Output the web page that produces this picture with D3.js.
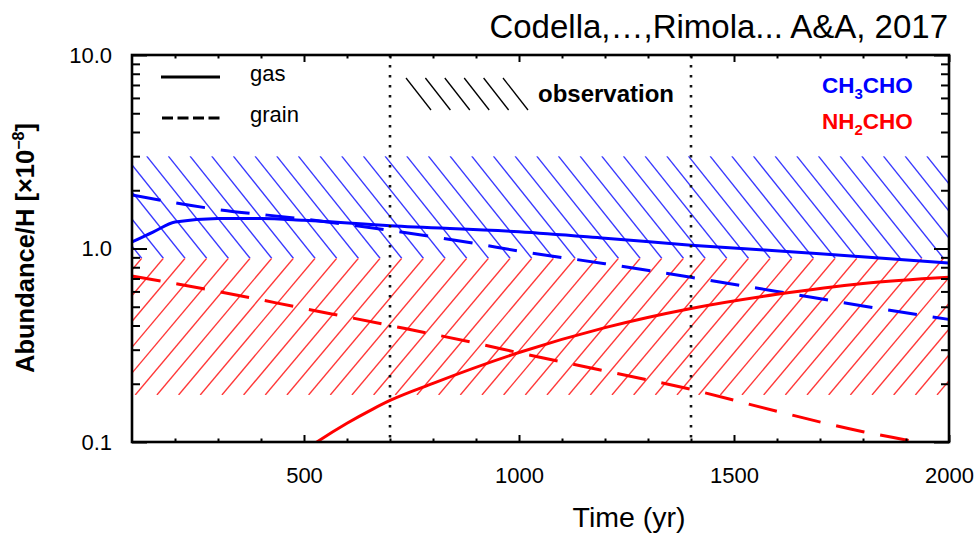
<!DOCTYPE html>
<html>
<head>
<meta charset="utf-8">
<script src="https://cdn.jsdelivr.net/npm/d3@7"></script>
<style>
  html, body { margin: 0; padding: 0; background: #fff; }
  svg { display: block; font-family: "Liberation Sans", Arial, sans-serif; }
</style>
</head>
<body>
<svg id="chart" width="980" height="533"></svg>
<script>
// Model abundances (relative to H, in units of 1e-8) versus time, [yr, value]
const ch3choGas = [[100,1.08],[150,1.22],[200,1.37],[300,1.43],[400,1.43],[500,1.40],[700,1.31],[1000,1.22],[1200,1.13],[1400,1.04],[1700,0.94],[2000,0.84]];
const ch3choGrain = [[100,1.89],[300,1.59],[500,1.42],[700,1.24],[900,1.06],[1000,0.97],[1200,0.835],[1400,0.71],[1600,0.60],[1800,0.505],[2000,0.43]];
const nh2choGas = [[500,0.090],[530,0.100],[600,0.125],[660,0.148],[700,0.164],[800,0.201],[1000,0.29],[1200,0.39],[1400,0.49],[1600,0.58],[1800,0.66],[2000,0.71]];
const nh2choGrain = [[100,0.72],[300,0.60],[500,0.49],[700,0.40],[900,0.324],[1000,0.289],[1200,0.233],[1400,0.187],[1600,0.144],[1800,0.113],[1900,0.1025],[2000,0.093]];

// Observed abundance ranges [low, high]
const obsCH3CHO = [0.89, 3.0];
const obsNH2CHO = [0.175, 0.89];
// Age window bracketing the observation
const obsWindow = [700, 1400];

// Axis ticks
const xMajorTicks = [500, 1000, 1500, 2000];
const xMinorTicks = [200,300,400,600,700,800,900,1100,1200,1300,1400,1600,1700,1800,1900];
const yMajorTicks = [0.1, 1, 10];
const yMinorTicks = [0.2,0.3,0.4,0.5,0.6,0.7,0.8,0.9,2,3,4,5,6,7,8,9];

const BLUE = "#0000ff", RED = "#ff0000";

const svg = d3.select("#chart");
const L = 132, R = 949, T = 55, B = 442;

const x = d3.scaleLinear().domain([100, 2000]).range([L, R]);
const y = d3.scaleLog().domain([0.1, 10]).range([B, T]);

const defs = svg.append("defs");
defs.append("clipPath").attr("id", "plotClip")
  .append("rect").attr("x", L).attr("y", T).attr("width", R - L).attr("height", B - T);

// Hatched observation bands: "\" above the shared edge, "/" below it, meeting in chevrons
function hatchBand(id, yEdge, yFar, slope, color, step, phase) {
  const top = Math.min(yEdge, yFar), h = Math.abs(yFar - yEdge);
  defs.append("clipPath").attr("id", id)
    .append("rect").attr("x", L).attr("y", top).attr("width", R - L).attr("height", h);
  const tips = d3.range(L + phase - 10 * step, R + 10 * step, step);
  svg.append("g").attr("clip-path", `url(#${id})`)
    .selectAll("line").data(tips).join("line")
    .attr("x1", d => d).attr("y1", yEdge)
    .attr("x2", d => d - slope * h).attr("y2", yFar)
    .attr("stroke", color).attr("stroke-width", 1.4).attr("stroke-opacity", 0.78);
}
hatchBand("hatchCH3", y(obsCH3CHO[0]), y(obsCH3CHO[1]), 0.8, BLUE, 21.67, 9.7);
hatchBand("hatchNH2", y(obsNH2CHO[1]), y(obsNH2CHO[0]), 0.84, RED, 21.67, 9.7);

// Model curves
const line = d3.line().x(d => x(d[0])).y(d => y(d[1])).curve(d3.curveMonotoneX);
const curves = svg.append("g").attr("clip-path", "url(#plotClip)");
[
  { data: ch3choGrain, color: BLUE, dash: "29,16" },
  { data: nh2choGrain, color: RED, dash: "29,16" },
  { data: ch3choGas, color: BLUE, dash: null },
  { data: nh2choGas, color: RED, dash: null }
].forEach(s => {
  curves.append("path").datum(s.data)
    .attr("d", line).attr("fill", "none")
    .attr("stroke", s.color).attr("stroke-width", 3)
    .attr("stroke-dasharray", s.dash);
});

// Dotted vertical markers
svg.append("g").selectAll("line").data(obsWindow).join("line")
  .attr("x1", d => x(d)).attr("x2", d => x(d))
  .attr("y1", T).attr("y2", B)
  .attr("stroke", "#111").attr("stroke-width", 2.6).attr("stroke-dasharray", "2.6,7.4");

// Axes, ticks pointing inward on all four sides
function styleAxis(g) {
  g.select(".domain").remove();
  g.selectAll(".tick line").attr("stroke", "#000").attr("stroke-width", 2);
  g.selectAll("text").attr("fill", "#000").attr("font-size", 22)
    .attr("font-family", "Liberation Sans, Arial, sans-serif");
}
svg.append("g").attr("transform", `translate(0,${B})`)
  .call(d3.axisBottom(x).tickValues(xMajorTicks).tickSize(-7).tickPadding(25).tickFormat(d3.format("d")))
  .call(styleAxis);
svg.append("g").attr("transform", `translate(0,${B})`)
  .call(d3.axisBottom(x).tickValues(xMinorTicks).tickSize(-3.5).tickFormat(""))
  .call(styleAxis);
svg.append("g").attr("transform", `translate(0,${T})`)
  .call(d3.axisTop(x).tickValues(xMajorTicks).tickSize(-7).tickFormat(""))
  .call(styleAxis);
svg.append("g").attr("transform", `translate(0,${T})`)
  .call(d3.axisTop(x).tickValues(xMinorTicks).tickSize(-3.5).tickFormat(""))
  .call(styleAxis);
svg.append("g").attr("transform", `translate(${L},0)`)
  .call(d3.axisLeft(y).tickValues(yMajorTicks).tickSize(-15).tickPadding(20).tickFormat(d3.format(".1f")))
  .call(styleAxis);
svg.append("g").attr("transform", `translate(${L},0)`)
  .call(d3.axisLeft(y).tickValues(yMinorTicks).tickSize(-8).tickFormat(""))
  .call(styleAxis);
svg.append("g").attr("transform", `translate(${R},0)`)
  .call(d3.axisRight(y).tickValues(yMajorTicks).tickSize(-15).tickFormat(""))
  .call(styleAxis);
svg.append("g").attr("transform", `translate(${R},0)`)
  .call(d3.axisRight(y).tickValues(yMinorTicks).tickSize(-8).tickFormat(""))
  .call(styleAxis);

// Frame
svg.append("rect").attr("x", L).attr("y", T).attr("width", R - L).attr("height", B - T)
  .attr("fill", "none").attr("stroke", "#000").attr("stroke-width", 2.6);

// Axis titles
svg.append("text").attr("x", 629).attr("y", 527).attr("text-anchor", "middle")
  .attr("font-size", 28.5).text("Time (yr)");
const yt = svg.append("text").attr("transform", "translate(34,248) rotate(-90)")
  .attr("text-anchor", "middle").attr("font-size", 25.5).attr("font-weight", "bold");
yt.append("tspan").text("Abundance/H [×10");
yt.append("tspan").attr("font-size", 16).attr("dy", -10).text("−8");
yt.append("tspan").attr("dy", 10).text("]");

// Citation
svg.append("text").attr("x", 948).attr("y", 38).attr("text-anchor", "end")
  .attr("font-size", 33).text("Codella,…,Rimola... A&A, 2017");

// Line-style key
const key = svg.append("g");
key.append("line").attr("x1", 161).attr("x2", 220).attr("y1", 77).attr("y2", 77)
  .attr("stroke", "#000").attr("stroke-width", 3);
key.append("text").attr("x", 250).attr("y", 81).attr("font-size", 22).text("gas");
key.append("line").attr("x1", 162).attr("x2", 220).attr("y1", 118).attr("y2", 118)
  .attr("stroke", "#000").attr("stroke-width", 3).attr("stroke-dasharray", "11,4.5");
key.append("text").attr("x", 250).attr("y", 122).attr("font-size", 22).text("grain");

// Observation key
key.selectAll(".obs").data(d3.range(6)).join("line")
  .attr("x1", i => 406 + i * 19.4).attr("y1", 78)
  .attr("x2", i => 431 + i * 19.4).attr("y2", 110)
  .attr("stroke", "#000").attr("stroke-width", 1.3);
key.append("text").attr("x", 538).attr("y", 102).attr("font-size", 24)
  .attr("font-weight", "bold").text("observation");

// Species labels
const sp1 = key.append("text").attr("x", 822).attr("y", 93).attr("font-size", 22.5)
  .attr("font-weight", "bold").attr("fill", BLUE);
sp1.append("tspan").text("CH");
sp1.append("tspan").attr("font-size", 15).attr("dy", 6).text("3");
sp1.append("tspan").attr("dy", -6).text("CHO");
const sp2 = key.append("text").attr("x", 822).attr("y", 129).attr("font-size", 22.5)
  .attr("font-weight", "bold").attr("fill", RED);
sp2.append("tspan").text("NH");
sp2.append("tspan").attr("font-size", 15).attr("dy", 6).text("2");
sp2.append("tspan").attr("dy", -6).text("CHO");
</script>
</body>
</html>
